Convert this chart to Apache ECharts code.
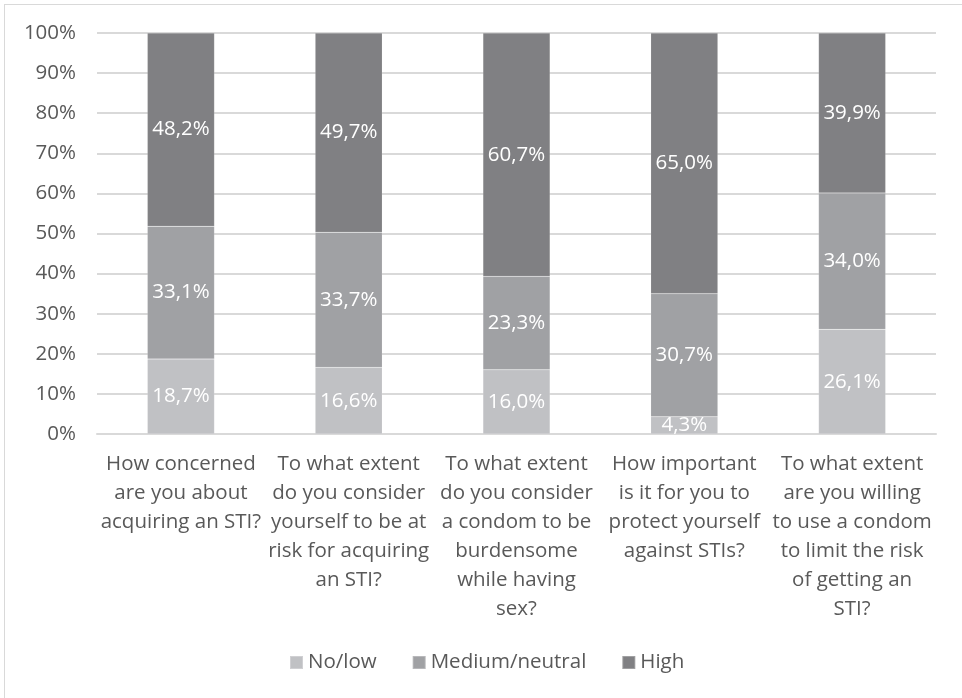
<!DOCTYPE html>
<html>
<head>
<meta charset="utf-8">
<script src="https://cdn.jsdelivr.net/npm/echarts@6/dist/echarts.min.js"></script>
<style>
  html, body { margin: 0; padding: 0; background: #fff; }
  #frame { position: absolute; left: 4px; top: 4px; width: 970px; height: 710px; border: 1px solid #d9d9d9; box-sizing: border-box; }
  #chart { position: absolute; left: 0; top: 0; width: 962px; height: 698px; }
</style>
</head>
<body>
<div id="frame"></div>
<div id="chart"></div>
<script>
// categories (wrapped like the original axis labels)
const categories = [
  'How concerned\nare you about\nacquiring an STI?',
  'To what extent\ndo you consider\nyourself to be at\nrisk for acquiring\nan STI?',
  'To what extent\ndo you consider\na condom to be\nburdensome\nwhile having\nsex?',
  'How important\nis it for you to\nprotect yourself\nagainst STIs?',
  'To what extent\nare you willing\nto use a condom\nto limit the risk\nof getting an\nSTI?'
]
const seriesNames = ['No/low', 'Medium/neutral', 'High']
const lowValues = [18.7, 16.6, 16.0, 4.3, 26.1]
const mediumValues = [33.1, 33.7, 23.3, 30.7, 34.0]
const highValues = [48.2, 49.7, 60.7, 65.0, 39.9]
const colors = ['#c0c1c4', '#a0a1a4', '#808083']

const textColor = '#595959'
const fontFamily = '"Open Sans", "Noto Sans", sans-serif'
const fontSize = 20.5

const makeSeries = (name, values, color) => ({
  name: name,
  type: 'bar',
  stack: 'total',
  barWidth: '40%',
  data: values,
  itemStyle: { color: color, borderColor: 'rgba(255,255,255,0.25)', borderWidth: 0.5 },
  label: {
    show: true,
    position: 'inside',
    color: '#fff',
    fontSize: fontSize,
    fontFamily: fontFamily,
    formatter: (p) => p.value.toFixed(1).replace('.', ',') + '%'
  }
})

const chart = echarts.init(document.getElementById('chart'))
chart.setOption({
  animation: false,
  textStyle: { fontFamily: fontFamily },
  grid: { left: 97, right: 26, top: 33, bottom: 264 },
  legend: {
    bottom: 20,
    left: 284,
    itemWidth: 13,
    itemHeight: 13,
    itemGap: 35,
    icon: 'rect',
    textStyle: { color: textColor, fontSize: fontSize, fontFamily: fontFamily },
    data: seriesNames
  },
  xAxis: {
    type: 'category',
    data: categories,
    axisLine: { lineStyle: { color: '#d9d9d9', width: 2 } },
    axisTick: { show: false },
    axisLabel: {
      interval: 0,
      color: textColor,
      fontSize: fontSize,
      lineHeight: 29,
      margin: 16,
      fontFamily: fontFamily
    }
  },
  yAxis: {
    type: 'value',
    min: 0,
    max: 100,
    interval: 10,
    axisLine: { show: false },
    axisTick: { show: false },
    splitLine: { lineStyle: { color: '#d9d9d9', width: 2 } },
    axisLabel: {
      color: textColor,
      fontSize: fontSize,
      margin: 21,
      fontFamily: fontFamily,
      formatter: '{value}%'
    }
  },
  series: [
    makeSeries(seriesNames[0], lowValues, colors[0]),
    makeSeries(seriesNames[1], mediumValues, colors[1]),
    makeSeries(seriesNames[2], highValues, colors[2])
  ]
})
</script>
</body>
</html>
